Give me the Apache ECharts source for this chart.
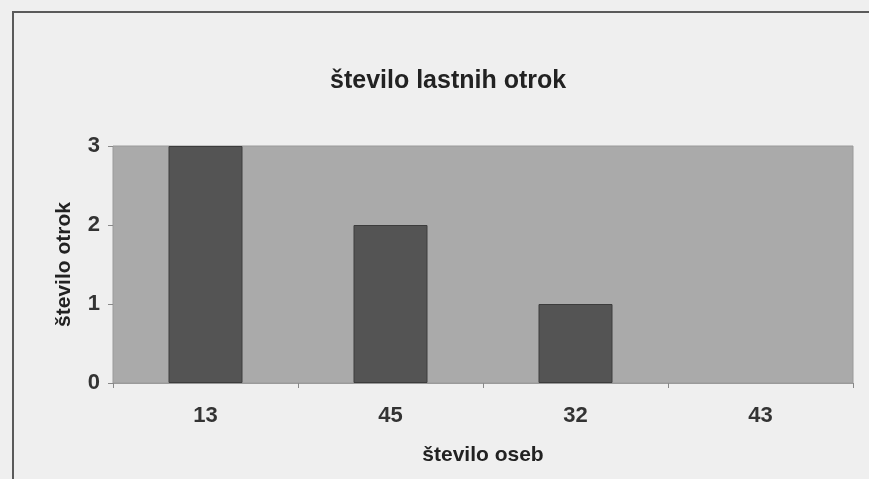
<!DOCTYPE html>
<html>
<head>
<meta charset="utf-8">
<script src="https://cdn.jsdelivr.net/npm/echarts@6/dist/echarts.min.js"></script>
<style>
html,body{margin:0;padding:0;background:#efefef;}
#c{width:869px;height:479px;}
</style>
</head>
<body>
<div id="c"></div>
<script>
const titleText = 'število lastnih otrok';
const xName = 'število oseb';
const yName = 'število otrok';
const categories = ['13', '45', '32', '43'];
const values = [3, 2, 1, 0];
const yTicks = [0, 1, 2, 3];

const chart = echarts.init(document.getElementById('c'));
const font = 'Liberation Sans, Arial, sans-serif';
chart.setOption({
  backgroundColor: '#efefef',
  animation: false,
  title: {
    text: titleText,
    left: 325,
    top: 64,
    textStyle: {fontFamily: font, fontSize: 25, fontWeight: 'bold', color: '#222'}
  },
  graphic: [{
    type: 'rect',
    shape: {x: 13, y: 12, width: 900, height: 520},
    style: {fill: 'none', stroke: '#5a5a5a', lineWidth: 2},
    silent: true
  }],
  grid: {
    left: 113, right: 16, top: 146, bottom: 96,
    show: true, backgroundColor: '#aaaaaa', borderColor: '#9a9a9a', borderWidth: 1
  },
  xAxis: {
    type: 'category',
    data: categories,
    name: xName,
    nameLocation: 'middle',
    nameGap: 62,
    nameTextStyle: {fontFamily: font, fontSize: 21, fontWeight: 'bold', color: '#222'},
    axisLine: {show: true, lineStyle: {color: '#9a9a9a', width: 1}},
    axisTick: {show: true, length: 5, lineStyle: {color: '#888'}},
    axisLabel: {fontFamily: font, fontSize: 22, fontWeight: 'bold', color: '#333', margin: 22}
  },
  yAxis: {
    type: 'value',
    min: yTicks[0], max: yTicks[yTicks.length - 1], interval: 1,
    name: yName,
    nameLocation: 'middle',
    nameGap: 38,
    nameTextStyle: {fontFamily: font, fontSize: 21, fontWeight: 'bold', color: '#222'},
    splitLine: {show: false},
    axisLine: {show: false},
    axisTick: {show: true, length: 5, lineStyle: {color: '#888'}},
    axisLabel: {fontFamily: font, fontSize: 22, fontWeight: 'bold', color: '#333', margin: 13}
  },
  series: [{
    type: 'bar',
    data: values.map(v => v === 0 ? {value: v, itemStyle: {borderWidth: 0, opacity: 0}} : v),
    barWidth: '40%',
    itemStyle: {color: '#545454', borderColor: '#3c3c3c', borderWidth: 1}
  }]
});
</script>
</body>
</html>
